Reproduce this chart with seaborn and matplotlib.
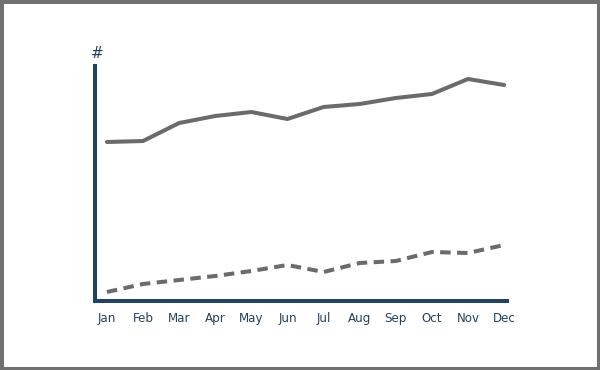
import matplotlib
matplotlib.use("Agg")
import matplotlib.pyplot as plt
import seaborn as sns
import pandas as pd

# === Data ===
months = ["Jan", "Feb", "Mar", "Apr", "May", "Jun",
          "Jul", "Aug", "Sep", "Oct", "Nov", "Dec"]
series_a = [159, 160, 178, 185, 189, 182, 194, 197, 203, 207, 222, 216]
series_b = [9, 17, 21, 25, 30, 36, 29, 38, 40, 49, 48, 56]

df = pd.DataFrame({"month": range(len(months)), "a": series_a, "b": series_b})

sns.set_style("white")
navy = "#23425f"
grey = "#6b6b6b"

fig = plt.figure(figsize=(6, 3.7), dpi=100)
fig.patch.set_facecolor("white")
fig.patch.set_edgecolor("#707070")
fig.patch.set_linewidth(5)

ax = fig.add_axes([95 / 600, (370 - 301) / 370, (507 - 95) / 600, (301 - 66) / 370])

sns.lineplot(data=df, x="month", y="a", ax=ax, color=grey, linewidth=2.9)
sns.lineplot(data=df, x="month", y="b", ax=ax, color=grey, linewidth=2.9,
             dashes=False, linestyle=(0, (2.6, 1.6)))

ax.set_xlim(-0.33, 11.08)
ax.set_ylim(0, 235)
ax.set_xticks(range(len(months)))
ax.set_xticklabels(months, fontsize=8.6, color=navy)
ax.set_yticks([])
ax.tick_params(axis="x", length=0, pad=8)
ax.set_xlabel("")
ax.set_ylabel("")

for side in ["top", "right"]:
    ax.spines[side].set_visible(False)
for side in ["left", "bottom"]:
    ax.spines[side].set_color(navy)
    ax.spines[side].set_linewidth(2.9)

ax.text(0.005, 1.02, "#", transform=ax.transAxes, ha="center", va="bottom",
        fontsize=11, color=navy)

fig.savefig("out.png", dpi=100)
